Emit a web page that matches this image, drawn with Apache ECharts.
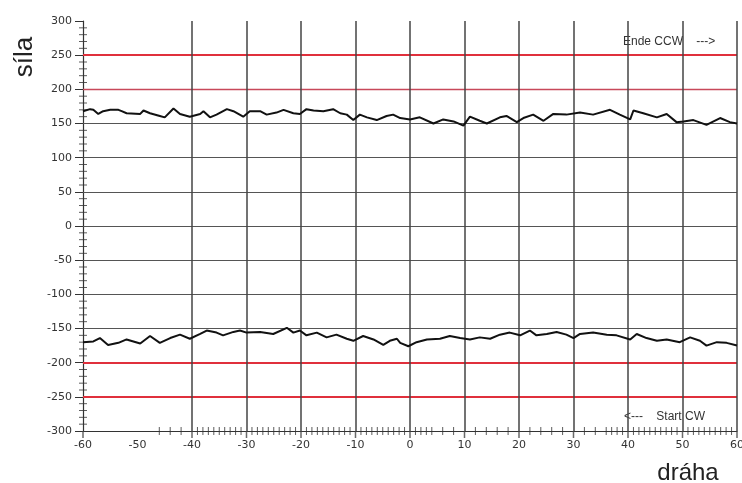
<!DOCTYPE html>
<html>
<head>
<meta charset="utf-8">
<script src="https://cdn.jsdelivr.net/npm/echarts@6/dist/echarts.min.js"></script>
<style>html,body{margin:0;padding:0;background:#fff}#c{width:742px;height:483px}</style>
</head>
<body>
<div id="c"></div>
<script>
// ---- data ----
const upperCurve = [[-60,168],[-58.7,171],[-58.1,170],[-57.2,164],[-56.3,168],[-55,170],[-53.5,170],[-52.9,168],[-52,165],[-49.5,164],[-48.9,169],[-47.7,165],[-45.9,161],[-45,159],[-43.4,172],[-42.2,164],[-40.4,160],[-38.5,164],[-37.9,168],[-36.7,159],[-35.5,163],[-33.6,171],[-32.4,168],[-30.6,160],[-29.4,168],[-27.5,168],[-26.3,163],[-24.5,166],[-23.2,170],[-21.4,165],[-20.2,164],[-19,171],[-17.7,169],[-15.9,168],[-14.1,171],[-12.8,165],[-11.6,163],[-10.4,155],[-9.2,163],[-7.9,159],[-6.1,155],[-4.3,161],[-3.1,163],[-1.8,158],[0,156],[1.8,159],[4.3,150],[6.1,156],[8,153],[9.8,147],[11,160],[12.8,154],[14.1,150],[16.5,159],[17.7,161],[19.6,152],[20.8,158],[22.6,163],[24.5,154],[26.3,164],[28.7,163],[31.2,166],[33.6,163],[36.7,170],[38.5,163],[40.4,156],[41,169],[42.8,165],[45.3,159],[47.1,164],[48.9,152],[50.2,153],[52,155],[54.4,148],[56.9,158],[58.7,152],[60,150]];
const lowerCurve = [[-60,-170],[-58.1,-169],[-56.9,-164],[-55.4,-174],[-53.5,-171],[-52,-166],[-49.5,-172],[-47.7,-161],[-45.9,-171],[-44,-164],[-42.2,-159],[-40.4,-165],[-38.5,-158],[-37.3,-153],[-35.5,-156],[-34.3,-160],[-32.4,-155],[-31.2,-153],[-30,-156],[-27.5,-155],[-25.1,-158],[-22.6,-149],[-21.4,-156],[-20.2,-153],[-19,-160],[-17.1,-156],[-15.3,-163],[-13.5,-159],[-11.6,-165],[-10.4,-168],[-8.6,-161],[-6.7,-166],[-4.9,-174],[-3.7,-168],[-2.4,-165],[-1.8,-171],[-0.3,-176],[1.2,-170],[3.1,-166],[5.5,-165],[7.3,-161],[9.2,-164],[11,-166],[12.8,-163],[14.7,-165],[16.5,-159],[18.3,-156],[20.2,-160],[22,-153],[23.2,-160],[25.1,-158],[26.9,-155],[28.7,-159],[30,-164],[31.2,-158],[33.6,-156],[36.1,-159],[37.9,-160],[40.4,-166],[41.6,-158],[43.4,-164],[45.3,-168],[47.1,-166],[49.5,-170],[51.4,-163],[53.2,-168],[54.4,-175],[56.3,-170],[58.1,-171],[60,-175]];

const xGridLines = [-40,-30,-20,-10,0,10,20,30,40,50,60];
const xMajorTicks = [-60,-40,-30,-20,-10,0,10,20,30,40,50,60];
const xMinorTicks = [-46,-44,-42,-39,-38,-37,-36,-35,-34,-33,-32,-31,-29,-28,-27,-26,-25,-24,-23,-22,-21,-19,-18,-17,-16,-15,-14,-13,-12,-11,-9,-8,-7,-6,-5,-4,-3,-2,-1,1,2,3,4,6,8,12,14,16,18,22,24,26,28,32,34,36,37,38,39,41,42,43,44,45,46,47,48,49,51,52,53,54,55,56,57,58,59];
const yMinorTicks = [290,280,270,260,240,230,220,210,190,180,170,160,140,130,120,110,90,80,70,60,40,30,20,10,-10,-20,-30,-40,-60,-70,-80,-90,-110,-120,-130,-140,-160,-170,-180,-190,-210,-220,-230,-240,-260,-270,-280,-290];
const grayHLines = [150,100,50,0,-50,-100,-150];
const redThickHLines = [250,-200,-250];
const redThinHLines = [200];

const xName = 'dráha';
const yName = 'síla';
const noteTop = 'Ende CCW    --->';
const noteBottom = '<---    Start CW';

// ---- chart ----
const chart = echarts.init(document.getElementById('c'));
const markData = []
  .concat(grayHLines.map(v => ({yAxis: v, lineStyle: {color: '#555', width: 1, type: 'solid'}})))
  .concat(redThinHLines.map(v => ({yAxis: v, lineStyle: {color: '#c8485a', width: 1.3, type: 'solid'}})))
  .concat(redThickHLines.map(v => ({yAxis: v, lineStyle: {color: '#e0303c', width: 2.2, type: 'solid'}})))
  .concat(xGridLines.map(v => ({xAxis: v, lineStyle: {color: '#444', width: 1.5, type: 'solid'}})));

chart.setOption({
  animation: false,
  grid: {left: 83, right: 5, top: 21, bottom: 52, show: false, containLabel: false, outerBoundsMode: 'none'},
  xAxis: {
    type: 'value', min: -60, max: 60, interval: 10,
    axisLine: {show: true, onZero: false, lineStyle: {color: '#333', width: 1.2}},
    axisTick: {show: false},
    splitLine: {show: false},
    axisLabel: {fontFamily: 'DejaVu Sans', fontSize: 11, color: '#333', margin: 9}
  },
  yAxis: {
    type: 'value', min: -300, max: 300, interval: 50,
    axisLine: {show: true, onZero: false, lineStyle: {color: '#333', width: 1.2}},
    axisTick: {show: true, length: 8, lineStyle: {color: '#333', width: 1}},
    splitLine: {show: false},
    axisLabel: {fontFamily: 'DejaVu Sans', fontSize: 11, color: '#333', margin: 11}
  },
  graphic: [
    {type: 'text', x: 25, y: 57, rotation: Math.PI / 2,
     style: {text: yName, font: '26px "Liberation Sans"', fill: '#222', textAlign: 'center', textVerticalAlign: 'middle'}},
    {type: 'text', x: 688, y: 473,
     style: {text: xName, font: '24px "Liberation Sans"', fill: '#222', textAlign: 'center', textVerticalAlign: 'middle'}},
    {type: 'text', x: 623, y: 42,
     style: {text: noteTop, font: '12px "Liberation Sans"', fill: '#333', textAlign: 'left', textVerticalAlign: 'middle'}},
    {type: 'text', x: 624, y: 417,
     style: {text: noteBottom, font: '12px "Liberation Sans"', fill: '#333', textAlign: 'left', textVerticalAlign: 'middle'}}
  ],
  series: [
    {
      type: 'scatter', name: 'xMinor', z: 2, clip: false, silent: true,
      symbol: 'rect', symbolSize: [1, 8],
      itemStyle: {color: '#333'},
      data: xMinorTicks.map(v => [v, -300]),
      markLine: {silent: true, symbol: ['none', 'none'], label: {show: false}, data: markData}
    },
    {
      type: 'scatter', name: 'xMajor', z: 2, clip: false, silent: true,
      symbol: 'rect', symbolSize: [1.5, 7], symbolOffset: [0, 3.5],
      itemStyle: {color: '#444'},
      data: xMajorTicks.map(v => [v, -300])
    },
    {
      type: 'scatter', name: 'yMinor', z: 2, clip: false, silent: true,
      symbol: 'rect', symbolSize: [8, 1],
      itemStyle: {color: '#333'},
      data: yMinorTicks.map(v => [-60, v])
    },
    {
      type: 'line', name: 'upper', z: 5, showSymbol: false, smooth: false,
      lineStyle: {color: '#111', width: 2},
      data: upperCurve
    },
    {
      type: 'line', name: 'lower', z: 5, showSymbol: false, smooth: false,
      lineStyle: {color: '#111', width: 2},
      data: lowerCurve
    }
  ]
});
</script>
</body>
</html>
